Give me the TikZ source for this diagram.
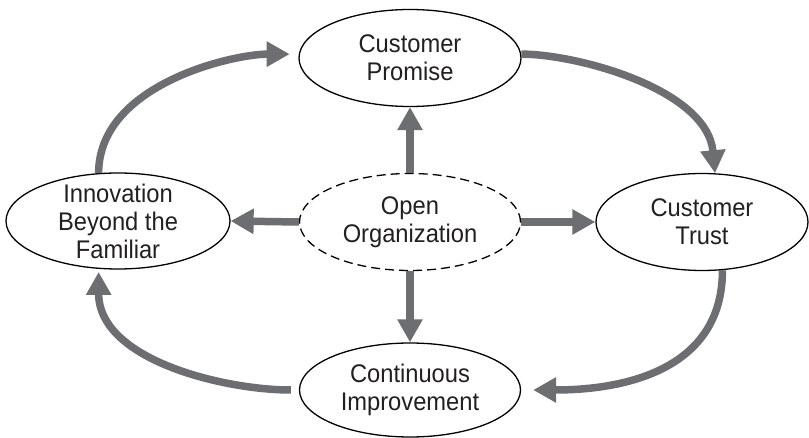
\documentclass[tikz,border=0pt]{standalone}
\usepackage{fontspec}
\setmainfont{Liberation Sans}[FakeStretch=0.93]
\usetikzlibrary{arrows.meta,shapes.geometric}
\definecolor{arrowgray}{HTML}{6D6E71}
\definecolor{inkc}{HTML}{231F20}
\begin{document}
\begin{tikzpicture}[x=1pt,y=-1pt,
  oval/.style={draw=black, line width=1.3pt, ellipse, inner sep=0pt, minimum height=97pt},
  dashoval/.style={oval, dash pattern=on 9pt off 5pt},
  txt/.style={font=\fontsize{25.5}{28}\selectfont, align=center, text=inkc, inner sep=0pt},
  flow/.style={draw=arrowgray, line width=7.5pt, -{Triangle[width=24pt,length=23pt]}}
]
\useasboundingbox (0,0) rectangle (809,438);
\node[oval, minimum width=222pt] (cp) at (410,58) {};
\node[dashoval, minimum width=221pt] (oo) at (410,222) {};
\node[oval, minimum width=212pt] (ct) at (702,222) {};
\node[oval, minimum width=224pt, minimum height=96pt] (inno) at (118,221) {};
\node[oval, minimum width=221pt, minimum height=94pt] (ci) at (410,390) {};
\node[txt] (cpT) at (cp) {Customer\\Promise};
\node[txt] (ooT) at (oo) {Open\\Organization};
\node[txt] (ctT) at (ct) {Customer\\Trust};
\node[txt] (innoT) at (inno) {Innovation\\Beyond the\\Familiar};
\node[txt] (ciT) at (ci) {Continuous\\Improvement};
\draw[flow] (oo.north) -- (cp.south);
\draw[flow] (oo.west) -- (inno.east);
\draw[flow] (oo.east) -- (ct.west);
\draw[flow] (oo.south) -- (ci.north);
\draw[flow] (cp.2) .. controls +(56,0) and +(-8,-84) .. (ct.75);
\draw[flow, shorten >=12pt] (ct.-67) .. controls +(0,96) and +(110,0) .. (ci.east);
\draw[flow, shorten <=8pt, shorten >=3pt] (ci.west) .. controls +(-75,0) and +(0,91) .. (inno.-112);
\draw[flow, shorten >=9pt] (inno.112) .. controls +(0,-88) and +(-67,0) .. (cp.178);
\end{tikzpicture}
\end{document}
